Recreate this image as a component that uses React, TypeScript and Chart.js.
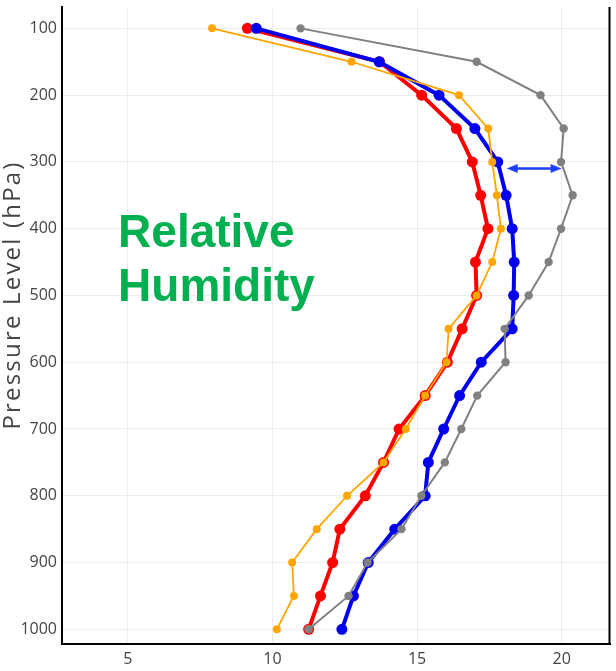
import { useEffect, useRef } from "react";
import { Chart, registerables } from "chart.js";

Chart.register(...registerables);

const pressureLevels = [100, 150, 200, 250, 300, 350, 400, 450, 500, 550, 600, 650, 700, 750, 800, 850, 900, 950, 1000];
const redSeries = [9.13, 13.7, 15.16, 16.36, 16.91, 17.2, 17.45, 17.02, 17.06, 16.56, 16.05, 15.28, 14.38, 13.84, 13.21, 12.33, 12.08, 11.66, 11.25];
const blueSeries = [9.44, 13.69, 15.76, 17.0, 17.79, 18.08, 18.29, 18.36, 18.34, 18.29, 17.22, 16.47, 15.92, 15.39, 15.28, 14.23, 13.31, 12.8, 12.4];
const orangeSeries = [7.91, 12.73, 16.45, 17.46, 17.6, 17.76, 17.9, 17.6, 17.06, 16.09, 16.02, 15.28, 14.61, 13.84, 12.58, 11.53, 10.68, 10.74, 10.15];
const graySeries = [10.97, 17.06, 19.27, 20.07, 19.98, 20.38, 19.98, 19.55, 18.86, 18.03, 18.06, 17.08, 16.53, 15.96, 15.15, 14.46, 13.29, 12.63, 11.25];

const xTickValues = [5, 10, 15, 20];
const yTickValues = [100, 200, 300, 400, 500, 600, 700, 800, 900, 1000];

const yAxisTitle = "Pressure Level (hPa)";
const annotationLines = ["Relative", "Humidity"];
const annotationAnchor = { x: 4.66, y: [427, 509] };
const arrowSpan = { y: 310, x1: 18.1, x2: 20.0 };

const toPoints = (xs: number[]) => xs.map((x, i) => ({ x, y: pressureLevels[i] }));

const overlayPlugin = {
  id: "overlay",
  afterDraw(chart: any) {
    const { ctx, chartArea, scales } = chart;
    const xs = scales.x;
    const ys = scales.y;
    ctx.save();
    // right border
    ctx.strokeStyle = "#000";
    ctx.lineWidth = 2;
    ctx.beginPath();
    ctx.moveTo(chartArea.right - 1, chartArea.top);
    ctx.lineTo(chartArea.right - 1, chartArea.bottom);
    ctx.stroke();

    // green text
    ctx.fillStyle = "#00b050";
    ctx.font = "bold 46px 'Liberation Sans', Arial, sans-serif";
    ctx.textAlign = "left";
    ctx.textBaseline = "alphabetic";
    annotationLines.forEach((t, i) => {
      ctx.fillText(t, xs.getPixelForValue(annotationAnchor.x), ys.getPixelForValue(annotationAnchor.y[i]));
    });

    // double arrow
    const ay = ys.getPixelForValue(arrowSpan.y);
    const ax1 = xs.getPixelForValue(arrowSpan.x1);
    const ax2 = xs.getPixelForValue(arrowSpan.x2);
    const col = "#1f3fff";
    ctx.strokeStyle = col;
    ctx.fillStyle = col;
    ctx.lineWidth = 2.5;
    const head = 11;
    const hw = 4.5;
    ctx.beginPath();
    ctx.moveTo(ax1 + head - 2, ay);
    ctx.lineTo(ax2 - head + 2, ay);
    ctx.stroke();
    ctx.beginPath();
    ctx.moveTo(ax1, ay);
    ctx.lineTo(ax1 + head, ay - hw);
    ctx.lineTo(ax1 + head, ay + hw);
    ctx.closePath();
    ctx.fill();
    ctx.beginPath();
    ctx.moveTo(ax2, ay);
    ctx.lineTo(ax2 - head, ay - hw);
    ctx.lineTo(ax2 - head, ay + hw);
    ctx.closePath();
    ctx.fill();

    // y axis title
    ctx.translate(13, 295);
    ctx.rotate(-Math.PI / 2);
    ctx.fillStyle = "#444";
    ctx.font = "24px 'Open Sans', sans-serif";
    (ctx as any).letterSpacing = "2.2px";
    ctx.textAlign = "center";
    ctx.textBaseline = "middle";
    ctx.fillText(yAxisTitle, 0, 0);
    ctx.restore();
  },
};

export default function App() {
  const ref = useRef<HTMLCanvasElement>(null);

  useEffect(() => {
    if (!ref.current) return;
    const mk = (label: string, data: number[], color: string, width: number, radius: number, order: number) => ({
      label,
      data: toPoints(data),
      borderColor: color,
      backgroundColor: color,
      pointBackgroundColor: color,
      pointBorderColor: color,
      borderWidth: width,
      pointRadius: radius,
      pointBorderWidth: 0,
      tension: 0,
      order,
    });
    const chart = new Chart(ref.current, {
      type: "line",
      data: {
        datasets: [
          mk("Red", redSeries, "#ff0000", 4, 5.5, 4),
          mk("Blue", blueSeries, "#0000ee", 4, 5.5, 3),
          mk("Orange", orangeSeries, "#ffa500", 1.8, 4, 2),
          mk("Gray", graySeries, "#808080", 2, 4.2, 1),
        ],
      },
      options: {
        responsive: false,
        animation: false,
        events: [],
        layout: { padding: { left: 0, top: 7, right: 4, bottom: 0 } },
        plugins: { legend: { display: false }, tooltip: { enabled: false }, title: { display: false } },
        scales: {
          x: {
            type: "linear",
            min: 2.72,
            max: 21.69,
            afterBuildTicks: (s: any) => {
              s.ticks = xTickValues.map((v) => ({ value: v }));
            },
            afterFit: (s: any) => {
              s.height = 27;
              s.paddingLeft = 0;
              s.paddingRight = 0;
            },
            grid: { color: "#ececec", lineWidth: 1, drawTicks: false },
            border: { display: true, color: "#000", width: 2 },
            ticks: {
              color: "#444",
              font: { family: "'Open Sans', sans-serif", size: 16 },
              padding: 6,
              maxRotation: 0,
              callback: (v: any) => String(v),
            },
          },
          y: {
            type: "linear",
            reverse: true,
            min: 68,
            max: 1022,
            afterBuildTicks: (s: any) => {
              s.ticks = yTickValues.map((v) => ({ value: v }));
            },
            afterFit: (s: any) => {
              s.width = 62;
              s.paddingTop = 0;
              s.paddingBottom = 0;
            },
            grid: { color: "#ececec", lineWidth: 1, drawTicks: false },
            border: { display: true, color: "#000", width: 2 },
            ticks: {
              color: "#444",
              font: { family: "'Open Sans', sans-serif", size: 16 },
              padding: 5,
              callback: (v: any) => String(v),
            },
          },
        },
      },
      plugins: [overlayPlugin],
    } as any);
    return () => chart.destroy();
  }, []);

  return (
    <div style={{ position: "absolute", left: 0, top: 0, width: 616, height: 671, background: "#fff" }}>
      <canvas ref={ref} width={616} height={671} style={{ display: "block" }} />
    </div>
  );
}
